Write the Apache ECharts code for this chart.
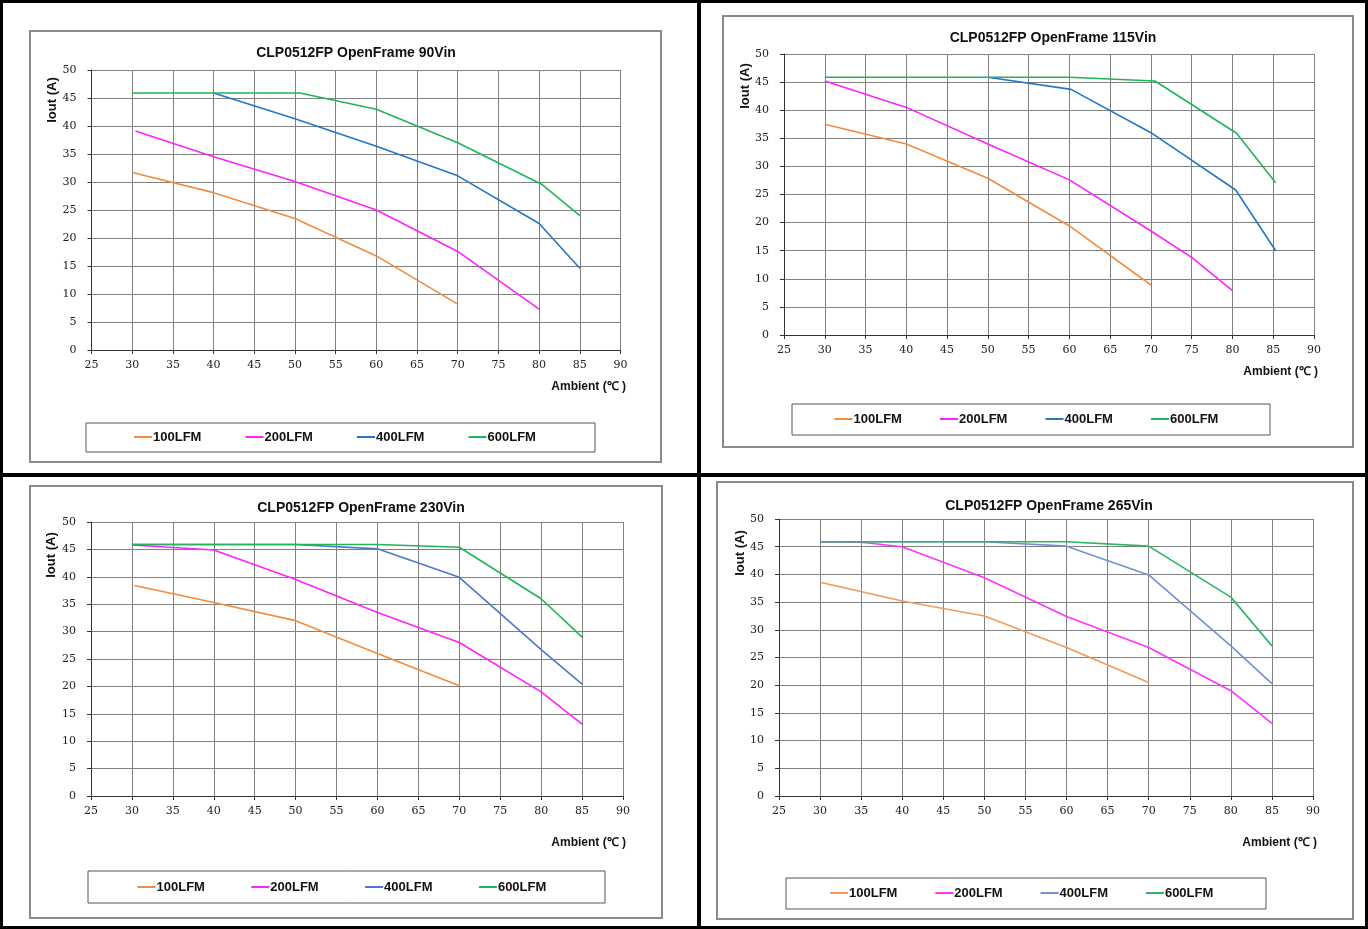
<!DOCTYPE html>
<html>
<head>
<meta charset="utf-8">
<script src="https://cdn.jsdelivr.net/npm/echarts@6/dist/echarts.min.js"></script>
<style>
html,body{margin:0;padding:0;background:#fff;}
#c{width:1368px;height:929px;}
</style>
</head>
<body>
<div id="c"></div>
<script>
// ---------- DATA ----------
const seriesNames = ['100LFM', '200LFM', '400LFM', '600LFM'];
const chartTitles = ['CLP0512FP OpenFrame 90Vin', 'CLP0512FP OpenFrame 115Vin', 'CLP0512FP OpenFrame 230Vin', 'CLP0512FP OpenFrame 265Vin'];
const xTicks = [25, 30, 35, 40, 45, 50, 55, 60, 65, 70, 75, 80, 85, 90];
const yTicks = [0, 5, 10, 15, 20, 25, 30, 35, 40, 45, 50];

// 90Vin
const t90_100 = [30, 40, 50, 60, 70];
const i90_100 = [31.7, 28.1, 23.5, 16.8, 8.2];
const t90_200 = [30.4, 40, 50, 60, 70, 80];
const i90_200 = [39.1, 34.5, 30.1, 25.0, 17.6, 7.3];
const t90_400 = [40, 50, 60, 70, 80, 85];
const i90_400 = [45.9, 41.3, 36.4, 31.1, 22.6, 14.6];
const t90_600 = [30, 50.6, 60, 70, 80.3, 85];
const i90_600 = [45.9, 45.9, 43.0, 37.0, 29.6, 24.0];

// 115Vin
const t115_100 = [30, 40, 50, 60, 70];
const i115_100 = [37.5, 34.0, 27.9, 19.4, 8.9];
const t115_200 = [30, 40, 50, 60, 70, 75, 80];
const i115_200 = [45.2, 40.5, 34.0, 27.6, 18.5, 13.8, 7.9];
const t115_400 = [50, 60.2, 70, 80.4, 85.3];
const i115_400 = [45.85, 43.7, 36.0, 25.8, 15.0];
const t115_600 = [30, 60, 70.5, 80.5, 85.3];
const i115_600 = [45.85, 45.85, 45.2, 35.9, 27.1];

// 230Vin
const t230_100 = [30.3, 40, 50, 60, 70];
const i230_100 = [38.4, 35.3, 32.0, 26.0, 20.1];
const t230_200 = [30, 40, 50, 60, 70, 80, 85];
const i230_200 = [45.8, 44.9, 39.5, 33.5, 28.0, 19.0, 13.1];
const t230_400 = [30, 50, 60, 70, 80, 85];
const i230_400 = [45.9, 45.9, 45.1, 39.9, 26.7, 20.4];
const t230_600 = [30, 60, 70, 80, 85];
const i230_600 = [45.9, 45.9, 45.4, 36.0, 29.0];

// 265Vin
const t265_100 = [30, 40, 50, 60, 70];
const i265_100 = [38.6, 35.2, 32.5, 26.8, 20.5];
const t265_200 = [30, 35, 40, 50, 60, 70, 80, 85];
const i265_200 = [45.9, 45.8, 45.0, 39.4, 32.4, 26.8, 19.0, 13.1];
const t265_400 = [30, 50, 60, 70, 80, 85];
const i265_400 = [45.9, 45.9, 45.1, 39.9, 27.1, 20.3];
const t265_600 = [30, 60, 70, 80, 85];
const i265_600 = [45.9, 45.9, 45.1, 35.9, 27.1];

const chartData = [
  [[t90_100, i90_100], [t90_200, i90_200], [t90_400, i90_400], [t90_600, i90_600]],
  [[t115_100, i115_100], [t115_200, i115_200], [t115_400, i115_400], [t115_600, i115_600]],
  [[t230_100, i230_100], [t230_200, i230_200], [t230_400, i230_400], [t230_600, i230_600]],
  [[t265_100, i265_100], [t265_200, i265_200], [t265_400, i265_400], [t265_600, i265_600]]
];

// ---------- LAYOUT / STYLE ----------
const colorSets = [
  ['#F08C40', '#FF22FF', '#2277C8', '#22B45A'],
  ['#F08C40', '#FF22FF', '#2277C8', '#22B45A'],
  ['#F08C40', '#FF22FF', '#4F76CC', '#22B45A'],
  ['#F29A58', '#FF33FF', '#7391D6', '#2EB563']
];
const layouts = [
  {grid:[91.5,70,529,280], box:[30,31,631,431], leg:[86,423,509,29], legLeft:134, legGap:32.5, legMid:437, title:[356,53], yname:[52,100], xname:[626,387]},
  {grid:[784,54,530,281], box:[723,16,630,431], leg:[792,404,478,31], legLeft:834.5, legGap:26.5, legMid:419, title:[1053,38], yname:[745,86], xname:[1318,372]},
  {grid:[91,522,532,274], box:[30,486,632,432], leg:[88,871,517,32], legLeft:137.5, legGap:34.8, legMid:887, title:[361,508], yname:[51,555], xname:[626,843]},
  {grid:[779,519,534,277], box:[717,482,636,437], leg:[786,878,480,31], legLeft:830, legGap:26.3, legMid:893, title:[1049,506], yname:[740,553], xname:[1317,843]}
];

const tickFont = "'DejaVu Serif', serif";
const sansFont = "'Liberation Sans', Arial, sans-serif";

const grids = [], xAxes = [], yAxes = [], series = [], legends = [], graphics = [];

layouts.forEach((L, k) => {
  grids.push({left: L.grid[0], top: L.grid[1], width: L.grid[2], height: L.grid[3], containLabel: false});
  xAxes.push({
    type: 'value', gridIndex: k, min: xTicks[0], max: xTicks[xTicks.length - 1], interval: 5,
    axisLine: {show: true, lineStyle: {color: '#333', width: 1}},
    axisTick: {show: true, inside: false, length: 4, lineStyle: {color: '#333'}},
    axisLabel: {show: true, margin: 10, color: '#222', fontFamily: tickFont, fontSize: 11, showMinLabel: true, showMaxLabel: true},
    splitLine: {show: true, lineStyle: {color: '#808080', width: 1}}
  });
  yAxes.push({
    type: 'value', gridIndex: k, min: yTicks[0], max: yTicks[yTicks.length - 1], interval: 5,
    axisLine: {show: true, onZero: false, lineStyle: {color: '#333', width: 1}},
    axisTick: {show: true, length: 4, lineStyle: {color: '#333'}},
    axisLabel: {show: true, margin: 15, color: '#222', fontFamily: tickFont, fontSize: 11, showMinLabel: true, showMaxLabel: true},
    splitLine: {show: true, lineStyle: {color: '#808080', width: 1}}
  });
  chartData[k].forEach((pair, s) => {
    const xs = pair[0], ys = pair[1];
    series.push({
      type: 'line', name: seriesNames[s], xAxisIndex: k, yAxisIndex: k,
      data: xs.map((x, j) => [x, ys[j]]),
      showSymbol: false, symbol: 'none', smooth: false,
      lineStyle: {color: colorSets[k][s], width: 1.6},
      itemStyle: {color: colorSets[k][s]},
      animation: false, silent: true
    });
  });
  legends.push({
    left: L.legLeft, top: L.legMid - 8, orient: 'horizontal', padding: 0,
    itemWidth: 18, itemHeight: 2, icon: 'rect', itemGap: L.legGap,
    selectedMode: false,
    textStyle: {fontFamily: sansFont, fontWeight: 'bold', fontSize: 13, color: '#111', width: 60, lineHeight: 16, padding: [0, 0, 0, -4]},
    data: seriesNames.map((n, s) => ({name: n, icon: 'rect', itemStyle: {color: colorSets[k][s]}}))
  });
  // chart frame
  graphics.push({type: 'rect', z: -10, shape: {x: L.box[0], y: L.box[1], width: L.box[2], height: L.box[3]},
    style: {fill: '#fff', stroke: '#8a8a8a', lineWidth: 2}});
  // legend frame
  graphics.push({type: 'rect', z: -5, shape: {x: L.leg[0], y: L.leg[1], width: L.leg[2], height: L.leg[3]},
    style: {fill: 'none', stroke: '#555', lineWidth: 1}});
  // title
  graphics.push({type: 'text', x: L.title[0], y: L.title[1],
    style: {text: chartTitles[k], fontFamily: sansFont, fontWeight: 'bold', fontSize: 14, fill: '#111', align: 'center', verticalAlign: 'middle'}});
  // y axis name
  graphics.push({type: 'text', x: L.yname[0], y: L.yname[1], rotation: Math.PI / 2,
    style: {text: 'Iout (A)', fontFamily: sansFont, fontWeight: 'bold', fontSize: 13, fill: '#111', align: 'center', verticalAlign: 'middle'}});
  // x axis name
  graphics.push({type: 'text', x: L.xname[0], y: L.xname[1],
    style: {text: 'Ambient (℃ )', fontFamily: sansFont, fontWeight: 'bold', fontSize: 12, fill: '#111', align: 'right', verticalAlign: 'middle'}});
});

// Page dividers (black frame)
graphics.push({type: 'rect', z: 100, shape: {x: 1.5, y: 1.5, width: 1365, height: 926}, style: {fill: 'none', stroke: '#000', lineWidth: 3}});
graphics.push({type: 'rect', z: 100, shape: {x: 697, y: 0, width: 4, height: 929}, style: {fill: '#000'}});
graphics.push({type: 'rect', z: 100, shape: {x: 0, y: 473, width: 1368, height: 4}, style: {fill: '#000'}});

const chart = echarts.init(document.getElementById('c'), null, {renderer: 'canvas'});
chart.setOption({
  animation: false,
  backgroundColor: '#fff',
  grid: grids,
  xAxis: xAxes,
  yAxis: yAxes,
  legend: legends,
  series: series,
  graphic: graphics
});
</script>
</body>
</html>
